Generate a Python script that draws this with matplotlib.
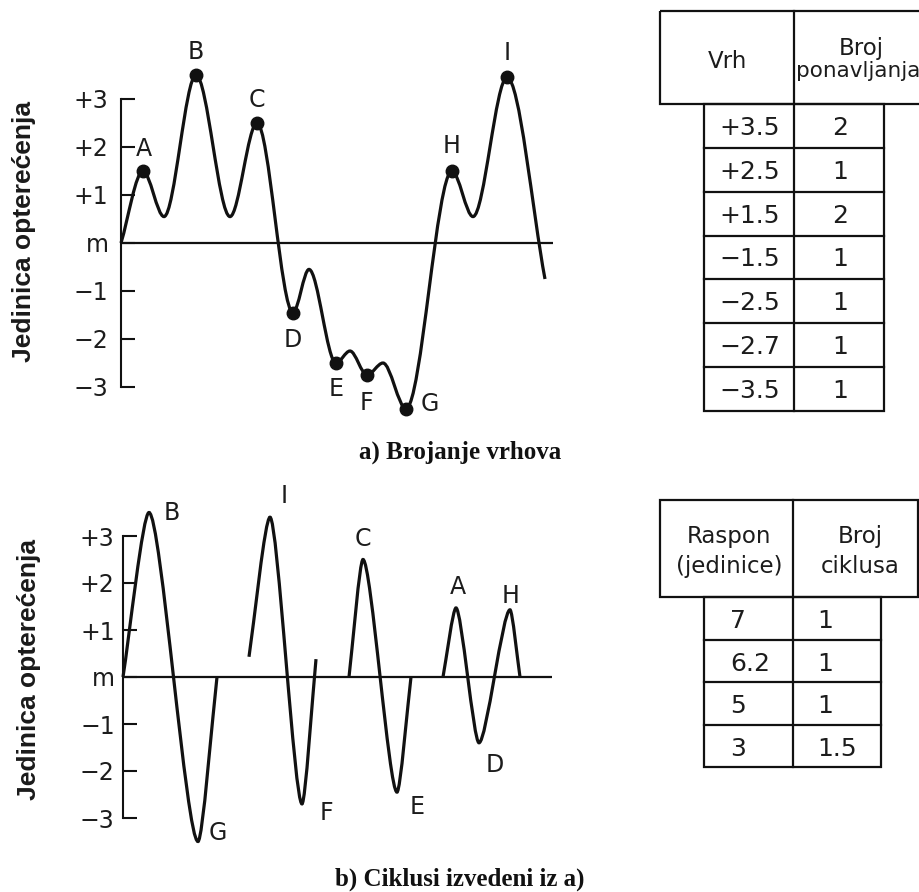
import matplotlib
matplotlib.use("Agg")
import matplotlib.pyplot as plt
from matplotlib.path import Path
from matplotlib.patches import PathPatch, Rectangle

# a) load history: turning points (time in arbitrary units, load in units)
a_time = [0.0, 2.2, 4.3, 7.5, 10.9, 13.6, 17.2, 18.8, 21.5, 22.9, 24.6, 26.2, 28.5, 33.1, 35.2, 38.6, 42.4]
a_load = [0.0, 1.5, 0.55, 3.5, 0.55, 2.5, -1.45, -0.55, -2.5, -2.25, -2.75, -2.5, -3.45, 1.5, 0.55, 3.45, -0.75]
a_names = ['', 'A', '', 'B', '', 'C', 'D', '', 'E', '', 'F', '', 'G', 'H', '', 'I', '']

# b) cycles derived from a)
b_time = [[0.0, 2.6, 7.5, 9.4],
          [12.6, 14.7, 17.9, 19.3],
          [22.6, 24.0, 27.4, 28.8],
          [32.0, 33.3, 35.6, 38.7, 39.7]]
b_load = [[0.0, 3.5, -3.5, 0.0],
          [0.43, 3.4, -2.7, 0.38],
          [0.0, 2.5, -2.45, 0.0],
          [0.0, 1.47, -1.4, 1.43, 0.0]]
b_names = [['', 'B', 'G', ''],
           ['', 'I', 'F', ''],
           ['', 'C', 'E', ''],
           ['', 'A', 'D', 'H', '']]

y_ticks = [3, 2, 1, 0, -1, -2, -3]
y_tick_labels = ['+3', '+2', '+1', 'm', '\u22121', '\u22122', '\u22123']
y_title = 'Jedinica optere\u0107enja'

# tables
peak_values = ['+3.5', '+2.5', '+1.5', '\u22121.5', '\u22122.5', '\u22122.7', '\u22123.5']
peak_counts = ['2', '1', '2', '1', '1', '1', '1']
range_values = ['7', '6.2', '5', '3']
cycle_counts = ['1', '1', '1', '1.5']

# label offsets in pixels (dx, dy)
a_offsets = {'A': (1, 22), 'B': (0, 23), 'C': (0, 23), 'D': (0, -27), 'E': (0, -26),
             'F': (-1, -28), 'G': (24, 5), 'H': (0, 25), 'I': (0, 24)}
b_offsets = {'B': (23, 0), 'I': (14, 21), 'C': (0, 20), 'A': (2, 21), 'H': (1, 14),
             'D': (16, -22), 'E': (20, -15), 'F': (24, -9), 'G': (20, 9)}

W, H = 920, 892
INK = '#111111'
TXT = '#1c1c1c'
fig = plt.figure(figsize=(W / 100, H / 100), dpi=100)


def px_axes(left, top, width, height):
    return fig.add_axes([left / W, 1 - (top + height) / H, width / W, height / H])


def smooth_path(t, v, k):
    # cubic bezier through turning points, flat at the extremes
    verts = [(t[0], v[0])]
    codes = [Path.MOVETO]
    n = len(t)
    for i in range(n - 1):
        dx = t[i + 1] - t[i]
        if i == 0:
            c1 = (t[0] + (t[1] - t[0]) * k, v[0] + (v[1] - v[0]) * k)
        else:
            c1 = (t[i] + k * dx, v[i])
        if i + 1 == n - 1:
            c2 = (t[i + 1] - dx * k, v[i + 1] - (v[i + 1] - v[i]) * k)
        else:
            c2 = (t[i + 1] - k * dx, v[i + 1])
        verts += [c1, c2, (t[i + 1], v[i + 1])]
        codes += [Path.CURVE4] * 3
    return Path(verts, codes)


def style_axes(ax, pad):
    ax.set_facecolor('none')
    for s in ['top', 'right', 'bottom']:
        ax.spines[s].set_visible(False)
    ax.spines['left'].set_bounds(-3, 3)
    ax.spines['left'].set_linewidth(1.5)
    ax.spines['left'].set_color(INK)
    ax.set_xticks([])
    ax.set_yticks(y_ticks)
    ax.set_yticklabels(y_tick_labels, fontsize=17, color=TXT, family='DejaVu Sans')
    ax.tick_params(axis='y', direction='in', length=10, width=1.5, pad=pad, color=INK)
    ax.axhline(0, color=INK, lw=1.6, zorder=1)


# ---- a) chart
ax1 = px_axes(121, 243 - 4.65 * 48, 432, 8.55 * 48)
ax1.set_xlim(0, 43.2)
ax1.set_ylim(-3.9, 4.65)
style_axes(ax1, 9)
ax1.add_patch(PathPatch(smooth_path(a_time, a_load, 0.33), fill=False, lw=2.3,
                        color=INK, capstyle='butt', clip_on=False, zorder=3))
for t, v, name in zip(a_time, a_load, a_names):
    if name:
        ax1.plot(t, v, 'o', ms=9, color=INK, clip_on=False, zorder=4)
        ax1.annotate(name, (t, v), xytext=a_offsets[name], textcoords='offset pixels',
                     ha='center', va='center', fontsize=17, color=TXT,
                     annotation_clip=False)

# ---- b) chart
ax2 = px_axes(123, 677 - 4.2 * 47, 429, 8.1 * 47)
ax2.set_xlim(0, 42.9)
ax2.set_ylim(-3.9, 4.2)
style_axes(ax2, 6)
for ts, vs, names in zip(b_time, b_load, b_names):
    ax2.add_patch(PathPatch(smooth_path(ts, vs, 0.24), fill=False, lw=2.3,
                            color=INK, capstyle='butt', clip_on=False, zorder=3))
    for t, v, name in zip(ts, vs, names):
        if name:
            ax2.annotate(name, (t, v), xytext=b_offsets[name], textcoords='offset pixels',
                         ha='center', va='center', fontsize=17, color=TXT,
                         annotation_clip=False)

# ---- overlay in pixel coordinates: titles, axis titles, tables
ov = fig.add_axes([0, 0, 1, 1], zorder=-1)
ov.set_xlim(0, W)
ov.set_ylim(H, 0)
ov.axis('off')

ov.text(24, 231, y_title, rotation=90, ha='center', va='center', fontsize=19,
        family='Liberation Sans', weight='bold', color='#1a1a1a')
ov.text(29, 669, y_title, rotation=90, ha='center', va='center', fontsize=19,
        family='Liberation Sans', weight='bold', color='#1a1a1a')
ov.text(460, 459, 'a) Brojanje vrhova', ha='center', va='baseline', fontsize=18,
        family='Liberation Serif', weight='bold', color='#111111')
ov.text(460, 886, 'b) Ciklusi izvedeni iz a)', ha='center', va='baseline', fontsize=18,
        family='Liberation Serif', weight='bold', color='#111111')


def box(x0, y0, x1, y1):
    ov.add_patch(Rectangle((x0, y0), x1 - x0, y1 - y0, fill=False, lw=1.6,
                           edgecolor=INK, clip_on=False))


def line(x0, y0, x1, y1):
    ov.plot([x0, x1], [y0, y1], color=INK, lw=1.6, solid_capstyle='projecting')


# top table
hdr_top, hdr_bot, col_split = 11, 104, 794
rows_left, rows_right, rows_bot = 704, 884, 411
box(660, hdr_top, 1000, hdr_bot)
line(col_split, hdr_top, col_split, rows_bot)
rh = (rows_bot - hdr_bot) / len(peak_values)
box(rows_left, hdr_bot, rows_right, rows_bot)
for i in range(1, len(peak_values)):
    line(rows_left, hdr_bot + i * rh, rows_right, hdr_bot + i * rh)
ov.text(728, 68, 'Vrh', ha='center', va='baseline', fontsize=16.5, color=TXT)
ov.text(861, 55, 'Broj', ha='center', va='baseline', fontsize=16.5, color=TXT)
ov.text(858, 77, 'ponavljanja', ha='center', va='baseline', fontsize=15.5, color=TXT)
for i, (val, cnt) in enumerate(zip(peak_values, peak_counts)):
    yb = hdr_bot + (i + 0.5) * rh + 9
    ov.text(750, yb, val, ha='center', va='baseline', fontsize=18, color=TXT)
    ov.text(840, yb, cnt, ha='center', va='baseline', fontsize=18, color=TXT)

# bottom table
hdr_top, hdr_bot, col_split = 500, 597, 793
rows_left, rows_right, rows_bot = 704, 881, 767
box(660, hdr_top, 918.5, hdr_bot)
line(col_split, hdr_top, col_split, rows_bot)
rh = (rows_bot - hdr_bot) / len(range_values)
box(rows_left, hdr_bot, rows_right, rows_bot)
for i in range(1, len(range_values)):
    line(rows_left, hdr_bot + i * rh, rows_right, hdr_bot + i * rh)
ov.text(729, 543, 'Raspon', ha='center', va='baseline', fontsize=16.5, color=TXT)
ov.text(729, 573, '(jedinice)', ha='center', va='baseline', fontsize=16.5, color=TXT)
ov.text(860, 543, 'Broj', ha='center', va='baseline', fontsize=16.5, color=TXT)
ov.text(860, 573, 'ciklusa', ha='center', va='baseline', fontsize=16.5, color=TXT)
for i, (val, cnt) in enumerate(zip(range_values, cycle_counts)):
    yb = hdr_bot + (i + 0.5) * rh + 10
    ov.text(730, yb, val, ha='left', va='baseline', fontsize=18, color=TXT)
    ov.text(817, yb, cnt, ha='left', va='baseline', fontsize=18, color=TXT)

fig.savefig('out.png', dpi=100, facecolor='white')
